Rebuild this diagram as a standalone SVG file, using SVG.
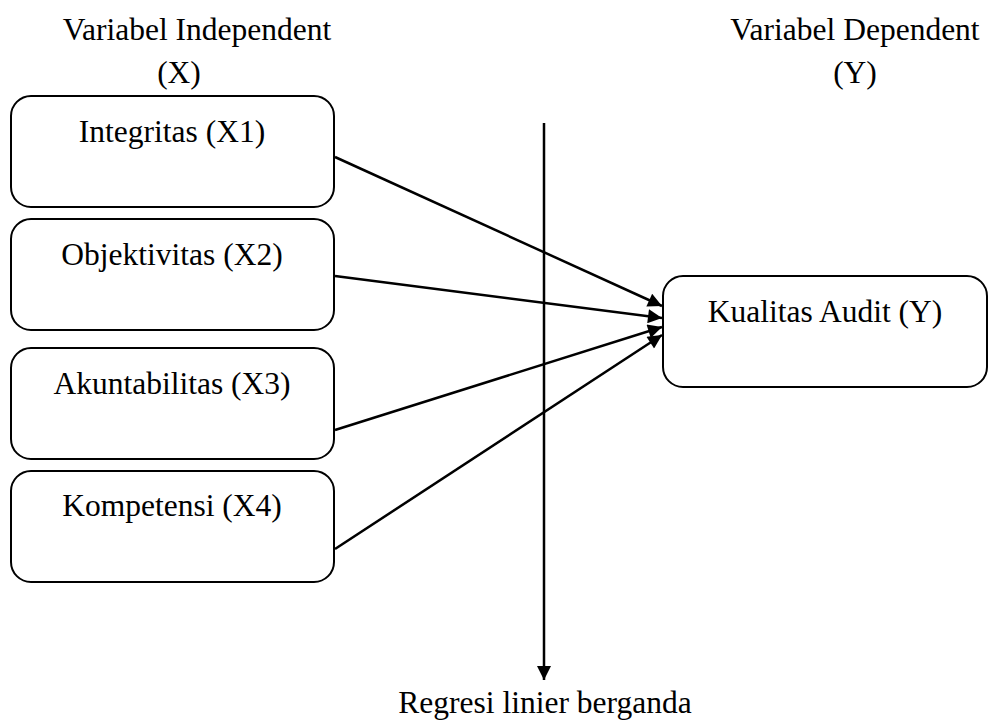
<svg xmlns="http://www.w3.org/2000/svg" width="997" height="720" viewBox="0 0 997 720">
<defs>
<style>
text{font-family:"Liberation Serif","Times New Roman",serif;font-size:31.5px;fill:#000;text-anchor:middle}
.box{fill:#fff;stroke:#000;stroke-width:2}
.ln{stroke:#000;stroke-width:2.5;fill:none}
</style>
<marker id="ah" viewBox="0 0 10 10" refX="10" refY="5" markerWidth="7" markerHeight="5.6" markerUnits="strokeWidth" orient="auto"><path d="M0,0 L10,5 L0,10 Z" fill="#000"/></marker>
</defs>
<rect width="997" height="720" fill="#fff"/>
<text x="197" y="40">Variabel Independent</text>
<text x="179" y="83">(X)</text>
<text x="855" y="40">Variabel Dependent</text>
<text x="855" y="83">(Y)</text>
<g id="connectors">
<line class="ln" x1="544" y1="123" x2="544" y2="680" marker-end="url(#ah)"/>
<line class="ln" x1="335" y1="157" x2="662" y2="306" marker-end="url(#ah)"/>
<line class="ln" x1="335" y1="276" x2="662" y2="318" marker-end="url(#ah)"/>
<line class="ln" x1="335" y1="430" x2="662" y2="327" marker-end="url(#ah)"/>
<line class="ln" x1="335" y1="549" x2="662" y2="335" marker-end="url(#ah)"/>
</g>
<g id="x1"><rect class="box" x="11" y="96" width="323" height="111" rx="20"/><text x="172" y="142">Integritas (X1)</text></g>
<g id="x2"><rect class="box" x="11" y="219" width="323" height="111" rx="20"/><text x="172" y="265">Objektivitas (X2)</text></g>
<g id="x3"><rect class="box" x="11" y="348" width="323" height="111" rx="20"/><text x="172" y="394">Akuntabilitas (X3)</text></g>
<g id="x4"><rect class="box" x="11" y="471" width="323" height="111" rx="20"/><text x="172" y="516">Kompetensi (X4)</text></g>
<g id="y"><rect class="box" x="663" y="276" width="324" height="111" rx="20"/><text x="825" y="322">Kualitas Audit (Y)</text></g>
<text x="545" y="713">Regresi linier berganda</text>
</svg>
